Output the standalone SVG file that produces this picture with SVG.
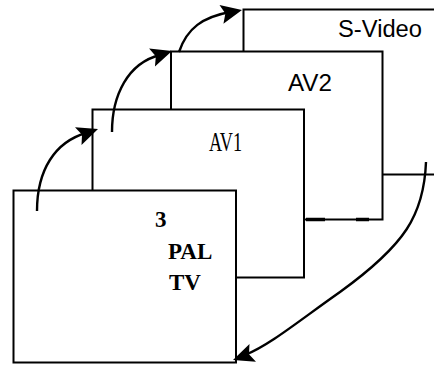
<svg xmlns="http://www.w3.org/2000/svg" width="434" height="365" viewBox="0 0 434 365">
<style>
.box{fill:#fff;stroke:#000;stroke-width:2}
.sans{font-family:"Liberation Sans",Arial,sans-serif;font-size:23px;fill:#000}
.serif{font-family:"Liberation Serif","Times New Roman",serif;fill:#000}
.bold{font-weight:bold;font-size:23px}
.conn{fill:none;stroke:#000;stroke-width:2.4}
</style>
<defs>
<path id="ah" d="M0,0 L-21,-9.5 L-17,0 L-21,9.5 z" fill="#000"/>
</defs>
<rect width="434" height="365" fill="#fff"/>
<g id="svideo">
<rect class="box" x="243.5" y="9.5" width="220" height="165"/>
<text class="sans" x="338" y="37" textLength="84" lengthAdjust="spacingAndGlyphs">S-Video</text>
</g>
<g id="av2">
<rect class="box" x="171" y="51.5" width="211.5" height="168"/>
<line x1="306" y1="219.5" x2="325" y2="219.5" stroke="#000" stroke-width="3.5"/>
<line x1="356" y1="219.5" x2="369" y2="219.5" stroke="#000" stroke-width="3.5"/>
<text class="sans" x="288" y="91" textLength="44" lengthAdjust="spacingAndGlyphs">AV2</text>
</g>
<g id="av1">
<rect class="box" x="92.5" y="109.5" width="211.5" height="168"/>
<text class="serif" x="209" y="151" font-size="28" textLength="33" lengthAdjust="spacingAndGlyphs">AV1</text>
</g>
<g id="tv">
<rect class="box" x="13.5" y="190.5" width="222.5" height="172"/>
<text class="serif bold" x="155" y="227">3</text>
<text class="serif bold" x="168" y="259">PAL</text>
<text class="serif bold" x="169" y="290">TV</text>
</g>
<g id="connectors">
<path class="conn" d="M37,211 C37,170 55,142 86,133"/>
<use href="#ah" transform="translate(98,129) rotate(-20)"/>
<path class="conn" d="M112,132 C112,95 128,63 160,55"/>
<use href="#ah" transform="translate(172,51) rotate(-18)"/>
<path class="conn" d="M179,52 C187,28 203,17 230,12"/>
<use href="#ah" transform="translate(242,10) rotate(-12)"/>
<path class="conn" stroke-width="2" d="M426,162 C424,215 405,245 340,292 C300,320 270,345 245,355"/>
<use href="#ah" transform="translate(233,360) rotate(160)"/>
</g>
</svg>
